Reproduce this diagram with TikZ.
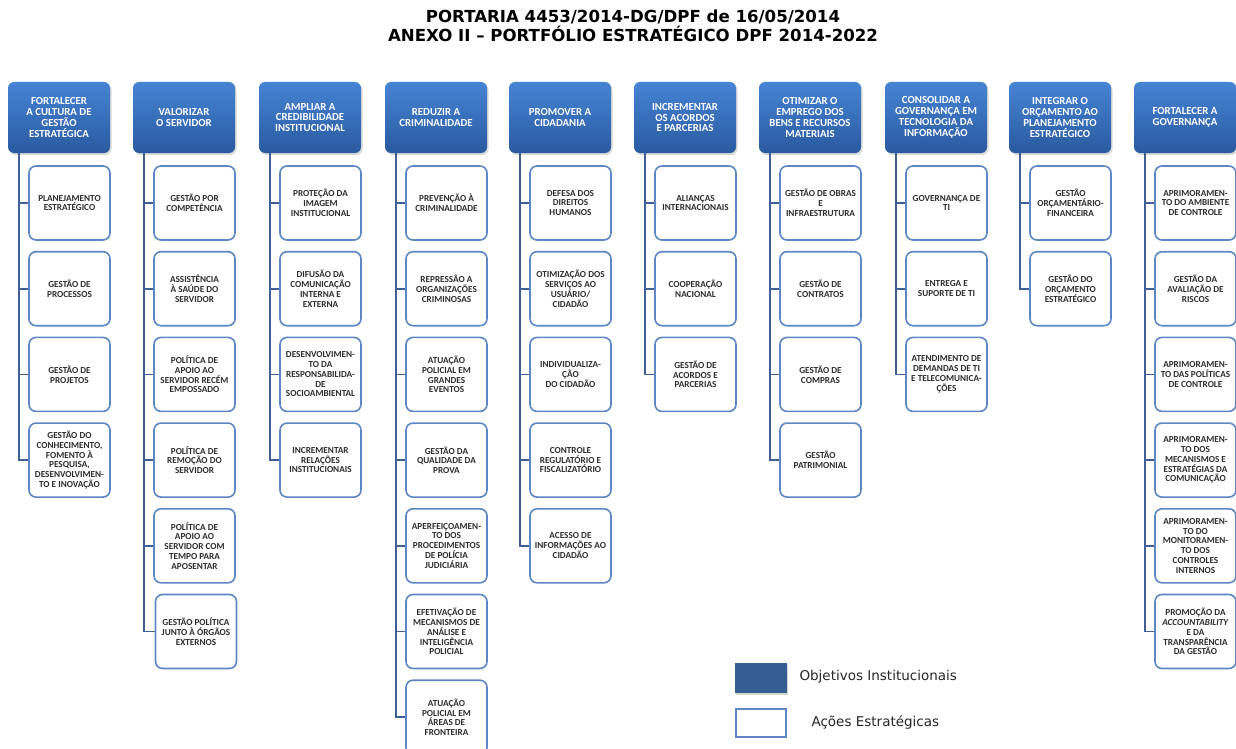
\documentclass[tikz,border=0pt]{standalone}
\usepackage{fontspec}
\usetikzlibrary{shadows}
\newfontfamily\carlito{Carlito}
\newfontfamily\dejavu{DejaVu Sans}
\definecolor{hdrtop}{RGB}{70,132,212}
\definecolor{hdrbot}{RGB}{42,90,160}
\definecolor{boxline}{RGB}{92,134,196}
\definecolor{connline}{RGB}{62,96,150}
\definecolor{legfill}{RGB}{53,94,148}
\definecolor{acaotext}{RGB}{45,45,45}
\tikzset{
  hdr/.style={rounded corners=6pt, top color=hdrtop, bottom color=hdrbot,
    minimum width=102pt, minimum height=71pt, text=white, align=center,
    inner sep=1pt, font=\carlito\bfseries\fontsize{10.8}{10.8}\selectfont,
    drop shadow={opacity=0.3, shadow xshift=1.5pt, shadow yshift=-2pt}},
  acao/.style={rounded corners=7pt, draw=boxline, line width=1.6pt, fill=white,
    minimum width=81pt, minimum height=74pt, align=center, inner sep=1pt,
    text=acaotext, font=\carlito\bfseries\fontsize{9.2}{9.8}\selectfont},
  conn/.style={draw=connline, line width=1.8pt},
  legtext/.style={anchor=west, font=\dejavu\fontsize{13.5}{15}\selectfont, text=black!85}
}
\begin{document}
\begin{tikzpicture}[x=1pt,y=-1pt]
\useasboundingbox (0,0) rectangle (1236,749);

% title
\node[font=\dejavu\bfseries\fontsize{16.6}{19}\selectfont, align=center] (title) at (633,26)
  {PORTARIA 4453/2014-DG/DPF de 16/05/2014\\ANEXO II – PORTFÓLIO ESTRATÉGICO DPF 2014-2022};

% objectives (headers)
\node[hdr] (h1)  at (59,117.5)   {FORTALECER\\A CULTURA DE\\GESTÃO\\ESTRATÉGICA};
\node[hdr] (h2)  at (184,117.5)  {VALORIZAR\\O SERVIDOR};
\node[hdr] (h3)  at (310,117.5)  {AMPLIAR A\\CREDIBILIDADE\\INSTITUCIONAL};
\node[hdr] (h4)  at (436,117.5)  {REDUZIR A\\CRIMINALIDADE};
\node[hdr] (h5)  at (560,117.5)  {PROMOVER A\\CIDADANIA};
\node[hdr] (h6)  at (685,117.5)  {INCREMENTAR\\OS ACORDOS\\E PARCERIAS};
\node[hdr] (h7)  at (810,117.5)  {OTIMIZAR O\\EMPREGO DOS\\BENS E RECURSOS\\MATERIAIS};
\node[hdr] (h8)  at (936,117.5)  {CONSOLIDAR A\\GOVERNANÇA EM\\TECNOLOGIA DA\\INFORMAÇÃO};
\node[hdr] (h9)  at (1060,117.5) {INTEGRAR O\\ORÇAMENTO AO\\PLANEJAMENTO\\ESTRATÉGICO};
\node[hdr] (h10) at (1185,117.5) {FORTALECER A\\GOVERNANÇA};

% spine start points below each objective
\foreach \i in {1,...,10} {
  \coordinate (s\i) at ([xshift=11pt]h\i.south west);
}

% column 1
\node[acao] (c1-1) at (69.5,203)   {PLANEJAMENTO\\ESTRATÉGICO};
\node[acao] (c1-2) at (69.5,288.7) {GESTÃO DE\\PROCESSOS};
\node[acao] (c1-3) at (69.5,374.4) {GESTÃO DE\\PROJETOS};
\node[acao] (c1-4) at (69.5,460.1) {GESTÃO DO\\CONHECIMENTO,\\FOMENTO À\\PESQUISA,\\DESENVOLVIMEN-\\TO E INOVAÇÃO};

% column 2
\node[acao] (c2-1) at (194.5,203)   {GESTÃO POR\\COMPETÊNCIA};
\node[acao] (c2-2) at (194.5,288.7) {ASSISTÊNCIA\\À SAÚDE DO\\SERVIDOR};
\node[acao] (c2-3) at (194.5,374.4) {POLÍTICA DE\\APOIO AO\\SERVIDOR RECÉM\\EMPOSSADO};
\node[acao] (c2-4) at (194.5,460.1) {POLÍTICA DE\\REMOÇÃO DO\\SERVIDOR};
\node[acao] (c2-5) at (194.5,545.8) {POLÍTICA DE\\APOIO AO\\SERVIDOR COM\\TEMPO PARA\\APOSENTAR};
\node[acao] (c2-6) at (196,631.5)   {GESTÃO POLÍTICA\\JUNTO À ÓRGÃOS\\EXTERNOS};

% column 3
\node[acao] (c3-1) at (320.5,203)   {PROTEÇÃO DA\\IMAGEM\\INSTITUCIONAL};
\node[acao] (c3-2) at (320.5,288.7) {DIFUSÃO DA\\COMUNICAÇÃO\\INTERNA E\\EXTERNA};
\node[acao] (c3-3) at (320.5,374.4) {DESENVOLVIMEN-\\TO DA\\RESPONSABILIDA-\\DE\\SOCIOAMBIENTAL};
\node[acao] (c3-4) at (320.5,460.1) {INCREMENTAR\\RELAÇÕES\\INSTITUCIONAIS};

% column 4
\node[acao] (c4-1) at (446.5,203)   {PREVENÇÃO À\\CRIMINALIDADE};
\node[acao] (c4-2) at (446.5,288.7) {REPRESSÃO A\\ORGANIZAÇÕES\\CRIMINOSAS};
\node[acao] (c4-3) at (446.5,374.4) {ATUAÇÃO\\POLICIAL EM\\GRANDES\\EVENTOS};
\node[acao] (c4-4) at (446.5,460.1) {GESTÃO DA\\QUALIDADE DA\\PROVA};
\node[acao] (c4-5) at (446.5,545.8) {APERFEIÇOAMEN-\\TO DOS\\PROCEDIMENTOS\\DE POLÍCIA\\JUDICIÁRIA};
\node[acao] (c4-6) at (446.5,631.5) {EFETIVAÇÃO DE\\MECANISMOS DE\\ANÁLISE E\\INTELIGÊNCIA\\POLICIAL};
\node[acao] (c4-7) at (446.5,717.2) {ATUAÇÃO\\POLICIAL EM\\ÁREAS DE\\FRONTEIRA};

% column 5
\node[acao] (c5-1) at (570.5,203)   {DEFESA DOS\\DIREITOS\\HUMANOS};
\node[acao] (c5-2) at (570.5,288.7) {OTIMIZAÇÃO DOS\\SERVIÇOS AO\\USUÁRIO/\\CIDADÃO};
\node[acao] (c5-3) at (570.5,374.4) {INDIVIDUALIZA-\\ÇÃO\\DO CIDADÃO};
\node[acao] (c5-4) at (570.5,460.1) {CONTROLE\\REGULATÓRIO E\\FISCALIZATÓRIO};
\node[acao] (c5-5) at (570.5,545.8) {ACESSO DE\\INFORMAÇÕES AO\\CIDADÃO};

% column 6
\node[acao] (c6-1) at (695.5,203)   {ALIANÇAS\\INTERNACIONAIS};
\node[acao] (c6-2) at (695.5,288.7) {COOPERAÇÃO\\NACIONAL};
\node[acao] (c6-3) at (695.5,374.4) {GESTÃO DE\\ACORDOS E\\PARCERIAS};

% column 7
\node[acao] (c7-1) at (820.5,203)   {GESTÃO DE OBRAS\\E\\INFRAESTRUTURA};
\node[acao] (c7-2) at (820.5,288.7) {GESTÃO DE\\CONTRATOS};
\node[acao] (c7-3) at (820.5,374.4) {GESTÃO DE\\COMPRAS};
\node[acao] (c7-4) at (820.5,460.1) {GESTÃO\\PATRIMONIAL};

% column 8
\node[acao] (c8-1) at (946.5,203)   {GOVERNANÇA DE\\TI};
\node[acao] (c8-2) at (946.5,288.7) {ENTREGA E\\SUPORTE DE TI};
\node[acao] (c8-3) at (946.5,374.4) {ATENDIMENTO DE\\DEMANDAS DE TI\\E TELECOMUNICA-\\ÇÕES};

% column 9
\node[acao] (c9-1) at (1070.5,203)   {GESTÃO\\ORÇAMENTÁRIO-\\FINANCEIRA};
\node[acao] (c9-2) at (1070.5,288.7) {GESTÃO DO\\ORÇAMENTO\\ESTRATÉGICO};

% column 10
\node[acao] (c10-1) at (1195.5,203)   {APRIMORAMEN-\\TO DO AMBIENTE\\DE CONTROLE};
\node[acao] (c10-2) at (1195.5,288.7) {GESTÃO DA\\AVALIAÇÃO DE\\RISCOS};
\node[acao] (c10-3) at (1195.5,374.4) {APRIMORAMEN-\\TO DAS POLÍTICAS\\DE CONTROLE};
\node[acao] (c10-4) at (1195.5,460.1) {APRIMORAMEN-\\TO DOS\\MECANISMOS E\\ESTRATÉGIAS DA\\COMUNICAÇÃO};
\node[acao] (c10-5) at (1195.5,545.8) {APRIMORAMEN-\\TO DO\\MONITORAMEN-\\TO DOS\\CONTROLES\\INTERNOS};
\node[acao] (c10-6) at (1195.5,631.5) {PROMOÇÃO DA\\\textit{ACCOUNTABILITY}\\E DA\\TRANSPARÊNCIA\\DA GESTÃO};

% connectors: spine down to the last action, branch to every action
\foreach \c/\n in {1/4,2/6,3/4,4/7,5/5,6/3,7/4,8/3,9/2,10/6} {
  \draw[conn] (s\c) |- (c\c-\n.west);
  \foreach \k in {1,...,\n} {
    \draw[conn] (c\c-\k.west) -- (c\c-\k.west -| s\c);
  }
}

% legend
\node[fill=legfill, minimum width=52pt, minimum height=30pt, inner sep=0pt,
  drop shadow={opacity=0.35, shadow xshift=0.5pt, shadow yshift=-1.5pt}] (legobj) at (761,678) {};
\node[legtext] (legobjtxt) at (796,677) {Objetivos Institucionais};
\node[draw=boxline, line width=1.6pt, fill=white, minimum width=50pt, minimum height=28pt,
  inner sep=0pt] (legacao) at (761,723) {};
\node[legtext] (legacaotxt) at (808,722) {Ações Estratégicas};
\end{tikzpicture}
\end{document}
